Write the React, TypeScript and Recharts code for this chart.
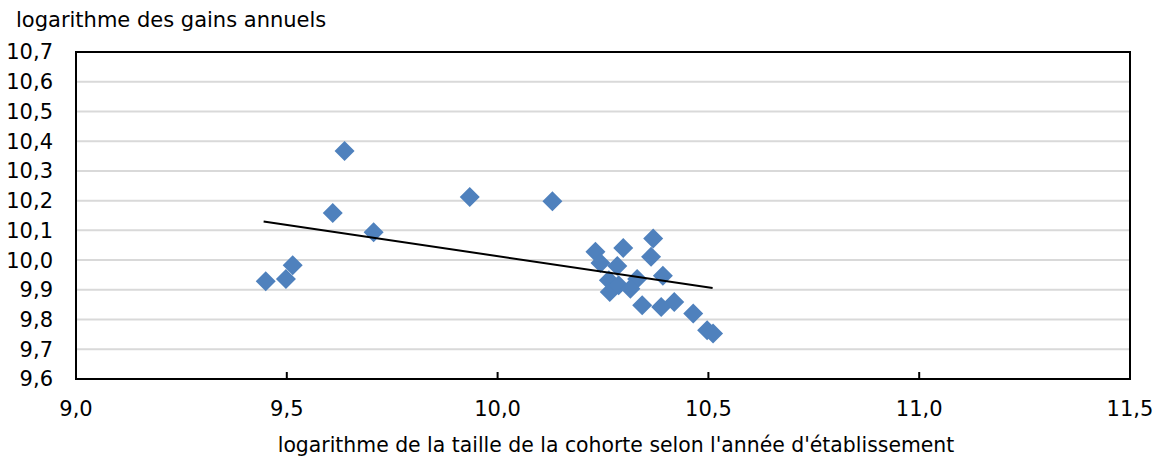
import {
  ScatterChart,
  Scatter,
  XAxis,
  YAxis,
  CartesianGrid,
  ReferenceArea,
} from "recharts";

// log cohort size (x) vs log annual earnings (y)
const cohortSize = [
  9.45, 9.498, 9.514, 9.609, 9.637, 9.706, 9.934, 10.13,
  10.232, 10.244, 10.298, 10.369, 10.364, 10.284, 10.264, 10.266,
  10.287, 10.331, 10.315, 10.392, 10.343, 10.388, 10.419, 10.464,
  10.497, 10.511,
];
const earnings = [
  9.929, 9.936, 9.983, 10.158, 10.367, 10.094, 10.212, 10.198,
  10.028, 9.99, 10.041, 10.073, 10.011, 9.98, 9.932, 9.893,
  9.915, 9.936, 9.904, 9.947, 9.848, 9.842, 9.859, 9.82,
  9.764, 9.753,
];

// linear trend endpoints
const trendX = [9.445, 10.51];
const trendY = [10.13, 9.906];

const xTicks = [9.0, 9.5, 10.0, 10.5, 11.0, 11.5];
const yTicks = [9.6, 9.7, 9.8, 9.9, 10.0, 10.1, 10.2, 10.3, 10.4, 10.5, 10.6, 10.7];

const FONT = "'DejaVu Sans', Verdana, sans-serif";
const FS = 21;
const BLUE = "#4F81BD";
const AXIS_Y = 379;

const points = cohortSize.map((x, i) => ({ x, y: earnings[i] }));
const trend = trendX.map((x, i) => ({ x, y: trendY[i] }));

const fmt = (v: number) => v.toFixed(1).replace(".", ",");

function Diamond(props: any) {
  const { cx, cy } = props;
  const r = 10;
  return (
    <path
      d={`M${cx},${cy - r}L${cx + r},${cy}L${cx},${cy + r}L${cx - r},${cy}Z`}
      fill={BLUE}
    />
  );
}

function XTick(props: any) {
  const { x, payload } = props;
  return (
    <g>
      <line x1={x} x2={x} y1={AXIS_Y} y2={AXIS_Y - 7} stroke="#000" strokeWidth={2} />
      <text x={x} y={AXIS_Y + 37} textAnchor="middle" fontSize={FS} fontFamily={FONT} fill="#000">
        {fmt(payload.value)}
      </text>
    </g>
  );
}

export default function App() {
  return (
    <div style={{ position: "absolute", left: 0, top: 0, width: 1156, height: 458, background: "#fff" }}>
      <div
        style={{
          position: "absolute",
          left: 16,
          top: 8,
          fontFamily: FONT,
          fontSize: FS,
          color: "#000",
          whiteSpace: "nowrap",
        }}
      >
        logarithme des gains annuels
      </div>
      <ScatterChart width={1156} height={458} margin={{ top: 52, right: 26, left: 0, bottom: 0 }}>
        <CartesianGrid vertical={false} stroke="#d9d9d9" strokeWidth={2} />
        <XAxis
          type="number"
          dataKey="x"
          domain={[9, 11.5]}
          ticks={xTicks}
          height={79}
          tickLine={false}
          axisLine={{ stroke: "#000", strokeWidth: 2 }}
          tick={<XTick />}
          interval={0}
        />
        <YAxis
          type="number"
          dataKey="y"
          domain={[9.6, 10.7]}
          ticks={yTicks}
          width={76}
          tickLine={false}
          tickSize={6}
          tickMargin={17}
          axisLine={{ stroke: "#000", strokeWidth: 2 }}
          tickFormatter={fmt}
          tick={{ fontSize: FS, fontFamily: FONT, fill: "#000" }}
          interval={0}
        />
        <ReferenceArea
          x1={9}
          x2={11.5}
          y1={9.6}
          y2={10.7}
          fill="none"
          stroke="#000"
          strokeWidth={2}
          fillOpacity={0}
        />
        <Scatter data={points} shape={<Diamond />} isAnimationActive={false} />
        <Scatter
          data={trend}
          line={{ stroke: "#000", strokeWidth: 2 }}
          shape={() => <g />}
          isAnimationActive={false}
        />
      </ScatterChart>
      <div
        style={{
          position: "absolute",
          left: 0,
          width: 1232,
          top: 433,
          textAlign: "center",
          fontFamily: FONT,
          fontSize: 20.4,
          color: "#000",
          whiteSpace: "nowrap",
        }}
      >
        logarithme de la taille de la cohorte selon l'année d'établissement
      </div>
    </div>
  );
}
